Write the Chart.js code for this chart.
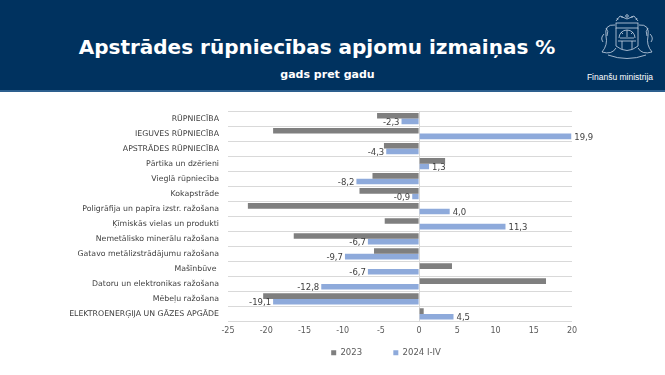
<!DOCTYPE html>
<html>
<head>
<meta charset="utf-8">
<script src="https://cdn.jsdelivr.net/npm/chart.js@4"></script>
<style>
  html, body { margin: 0; padding: 0; background: #fff; }
  body { width: 665px; height: 375px; overflow: hidden; position: relative; font-family: "DejaVu Sans", Verdana, sans-serif; }
  #header { position: absolute; left: 0; top: 0; width: 665px; height: 90px; background: #00325f; border-bottom: 2px solid #2d5f8e; }
  #title { position: absolute; left: 0; width: 634px; top: 35px; text-align: center; color: #fff; font-weight: bold; font-size: 20px; }
  #subtitle { position: absolute; left: 0; width: 655px; top: 68px; text-align: center; color: #fff; font-weight: bold; font-size: 11px; }
  #logo { position: absolute; left: 592px; top: 12px; }
  #ministry { position: absolute; left: 578px; width: 84px; top: 72px; text-align: center; color: #fff; font-family: "Liberation Sans", Arial, sans-serif; font-size: 8.5px; }
  #wrap { position: absolute; left: 0; top: 92px; width: 665px; height: 283px; }
</style>
</head>
<body>
<div id="header">
  <div id="title">Apstrādes rūpniecības apjomu izmaiņas %</div>
  <div id="subtitle">gads pret gadu</div>
  <svg id="logo" width="70" height="50" viewBox="0 0 70 50" fill="none" stroke="#c9d6e6" stroke-width="0.8">
    <path d="M24 9 L28 4 L35 7 L42 4 L46 9" />
    <circle cx="35" cy="4" r="1.3" />
    <path d="M26 8 L25 6 M30 6 L30 4 M40 6 L40 4 M44 8 L45 6" />
    <rect x="24" y="11" width="22" height="5" />
    <path d="M24 16 L24 34 Q35 43 46 34 L46 16" />
    <path d="M27 26 A8 8 0 0 1 43 26" />
    <path d="M28 26 L42 26 M35 18 L35 25 M29 20 L31 22 M41 20 L39 22" />
    <path d="M26 29 L44 29 M30 29 L30 37 M40 29 L40 37" />
    <path d="M23 13 Q12 12 14 24 Q16 33 10 40 Q20 43 24 36" />
    <path d="M47 13 Q58 12 56 24 Q54 33 60 40 Q50 43 46 36" />
    <path d="M14 16 Q17 19 15 24 M56 16 Q53 19 55 24" />
    <path d="M12 22 Q8 26 11 30 M58 22 Q62 26 59 30" />
    <path d="M16 43 Q35 50 54 43" />
  </svg>
  <div id="ministry">Finanšu ministrija</div>
</div>
<div id="wrap"><canvas id="chart"></canvas></div>
<script>
const categories = [
  'RŪPNIECĪBA',
  'IEGUVES RŪPNIECĪBA',
  'APSTRĀDES RŪPNIECĪBA',
  'Pārtika un dzērieni',
  'Vieglā rūpniecība',
  'Kokapstrāde',
  'Poligrāfija un papīra izstr. ražošana',
  'Ķīmiskās vielas un produkti',
  'Nemetālisko minerālu ražošana',
  'Gatavo metālizstrādājumu ražošana',
  'Mašīnbūve ',
  'Datoru un elektronikas ražošana',
  'Mēbeļu ražošana',
  'ELEKTROENERĢIJA UN GĀZES APGĀDE'
];
const values2023 = [-5.5, -19.1, -4.6, 3.4, -6.1, -7.8, -22.4, -4.5, -16.4, -5.9, 4.3, 16.6, -20.4, 0.6];
const values2024 = [-2.3, 19.9, -4.3, 1.3, -8.2, -0.9, 4.0, 11.3, -6.7, -9.7, -6.7, -12.8, -19.1, 4.5];
const seriesNames = ['2023', '2024 I-IV'];
const xTicks = [-25, -20, -15, -10, -5, 0, 5, 10, 15, 20];

// etiķetes tikai zilajai sērijai
const labelPlugin = {
  id: 'blueLabels',
  afterLayout(chart) {
    // leģendu nobīda zem diagrammas laukuma centra
    chart.legend.left += 100;
    chart.legend.right += 100;
  },
  afterDatasetsDraw(chart) {
    const ctx = chart.ctx;
    const meta = chart.getDatasetMeta(1);
    ctx.save();
    ctx.font = '8.5px "DejaVu Sans"';
    ctx.fillStyle = '#404040';
    ctx.textBaseline = 'middle';
    meta.data.forEach((bar, i) => {
      const v = values2024[i];
      const txt = v.toFixed(1).replace('.', ',');
      if (v < 0) {
        ctx.textAlign = 'right';
        ctx.fillText(txt, bar.x - 2, bar.y + 1);
      } else {
        ctx.textAlign = 'left';
        ctx.fillText(txt, bar.x + 3, bar.y + 1);
      }
    });
    ctx.restore();
  }
};

new Chart(document.getElementById('chart'), {
  type: 'bar',
  data: {
    labels: categories,
    datasets: [
      {
        label: seriesNames[0],
        data: values2023,
        backgroundColor: '#7f7f7f',
        categoryPercentage: 0.75,
        barPercentage: 1.0
      },
      {
        label: seriesNames[1],
        data: values2024,
        backgroundColor: '#8eaadb',
        categoryPercentage: 0.75,
        barPercentage: 1.0
      }
    ]
  },
  options: {
    indexAxis: 'y',
    responsive: true,
    maintainAspectRatio: false,
    animation: false,
    layout: { padding: { top: 19, right: 93, bottom: 8, left: 0 } },
    plugins: {
      legend: {
        position: 'bottom',
        labels: {
          boxWidth: 5,
          boxHeight: 5,
          padding: 10,
          color: '#595959',
          font: { family: 'DejaVu Sans', size: 8.5 },
          generateLabels(chart) {
            const items = Chart.defaults.plugins.legend.labels.generateLabels(chart);
            items[0].text = items[0].text + '\u2003\u2003\u2002';
            items.forEach(it => { it.lineWidth = 0; });
            return items;
          }
        }
      },
      tooltip: { enabled: false }
    },
    scales: {
      x: {
        min: -25,
        max: 20,
        afterBuildTicks: (s) => { s.ticks = xTicks.map(v => ({ value: v })); },
        afterFit: (s) => { s.height = 17; },
        border: { display: false },
        grid: {
          drawTicks: false,
          color: (c) => c.tick && c.tick.value === 0 ? '#d9d9d9' : 'rgba(0,0,0,0)'
        },
        ticks: {
          color: '#595959',
          padding: 5,
          font: { family: 'DejaVu Sans', size: 8 }
        }
      },
      y: {
        afterFit: (s) => { s.width = 228; },
        border: { display: false },
        grid: { color: '#d9d9d9', drawTicks: false, offset: true },
        ticks: {
          color: '#404040',
          padding: 9,
          autoSkip: false,
          font: { family: 'DejaVu Sans', size: 7.8 }
        }
      }
    }
  },
  plugins: [labelPlugin]
});
</script>
</body>
</html>
